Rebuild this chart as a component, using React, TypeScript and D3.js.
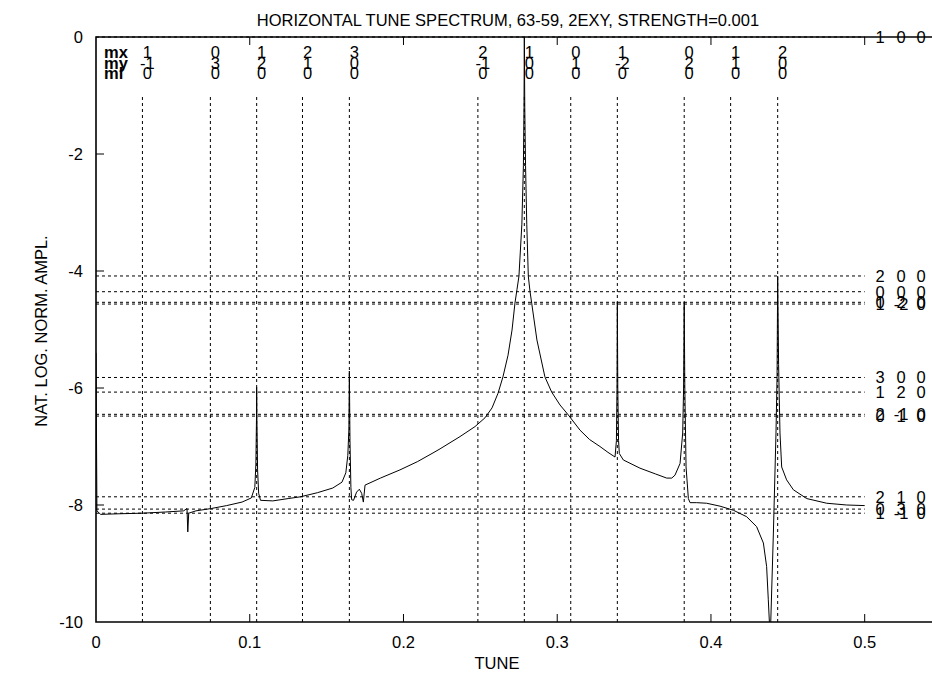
import React from 'react';
import * as d3 from 'd3';

// Horizontal tune spectrum with resonance markers

const W = 932;
const H = 673;

const xTickValues = [0, 0.1, 0.2, 0.3, 0.4, 0.5];
const xTickLabels = ['0', '0.1', '0.2', '0.3', '0.4', '0.5'];
const yTickValues = [0, -2, -4, -6, -8, -10];
const yTickLabels = ['0', '-2', '-4', '-6', '-8', '-10'];

// Resonance lines: tune position and mode numbers (mx, my, ml)
const resTune = [0.0302, 0.0744, 0.1045, 0.1343, 0.1648, 0.2484, 0.2786, 0.3088, 0.3391, 0.3826, 0.4128, 0.4434];
const resMx = ['1', '0', '1', '2', '3', '2', '1', '0', '1', '0', '1', '2'];
const resMy = ['-1', '3', '2', '1', '0', '-1', '0', '1', '-2', '2', '1', '0'];
const resMl = ['0', '0', '0', '0', '0', '0', '0', '0', '0', '0', '0', '0'];

// Amplitude levels of the resonances and their labels
const levelValue = [0, -4.085, -4.354, -4.535, -4.565, -5.82, -6.07, -6.45, -6.48, -7.86, -8.07, -8.14];
const levelMx = ['1', '2', '0', '0', '1', '3', '1', '2', '0', '2', '0', '1'];
const levelMy = ['0', '0', '0', '2', '-2', '0', '2', '-1', '1', '1', '3', '-1'];
const levelMl = ['0', '0', '0', '0', '0', '0', '0', '0', '0', '0', '0', '0'];

// Spectrum: [tune, natural log of normalised amplitude]
const spectrum: [number, number][] = [
  [0.0, -5.4], [0.0006, -8.1], [0.003, -8.16], [0.015, -8.15], [0.03, -8.14],
  [0.045, -8.12], [0.057, -8.1], [0.0592, -8.06], [0.0597, -8.46], [0.0603, -8.14],
  [0.065, -8.1], [0.075, -8.06], [0.085, -8.01], [0.095, -7.95], [0.101, -7.88],
  [0.1033, -7.7], [0.104, -7.3], [0.1044, -6.5], [0.1045, -5.99], [0.1047, -6.6],
  [0.1051, -7.4], [0.1058, -7.8], [0.107, -7.92], [0.115, -7.93], [0.125, -7.89],
  [0.133, -7.86], [0.144, -7.79], [0.154, -7.71], [0.16, -7.61], [0.1625, -7.45],
  [0.1638, -7.15], [0.1645, -6.7], [0.1648, -5.71], [0.1652, -6.9], [0.1658, -7.7],
  [0.1663, -7.91], [0.1675, -7.92], [0.1695, -7.78], [0.1713, -7.73], [0.1728, -7.8],
  [0.1739, -7.95], [0.175, -7.66], [0.185, -7.54], [0.1977, -7.4], [0.209, -7.26],
  [0.2192, -7.11], [0.2238, -7.04], [0.2368, -6.83], [0.2465, -6.66], [0.253, -6.51],
  [0.2576, -6.34], [0.2615, -6.09], [0.2647, -5.81], [0.268, -5.44], [0.2706, -5.01],
  [0.2725, -4.55], [0.2738, -4.32], [0.2751, -4.09], [0.277, -3.2], [0.278, -2.2],
  [0.2784, -1.2], [0.2786, 0], [0.2789, -1.2], [0.2794, -2.2], [0.2802, -3.2],
  [0.2812, -4.09], [0.2823, -4.35], [0.2834, -4.55], [0.2868, -5.18], [0.292, -5.81],
  [0.2964, -6.07], [0.3018, -6.29], [0.3072, -6.46], [0.3148, -6.72], [0.321, -6.88],
  [0.3278, -7.0], [0.333, -7.1], [0.3376, -7.18], [0.3385, -6.9], [0.3389, -6.0],
  [0.3391, -4.53], [0.3394, -6.0], [0.3399, -6.9], [0.3404, -7.12], [0.343, -7.23],
  [0.3538, -7.37], [0.364, -7.47], [0.3712, -7.54], [0.3745, -7.54], [0.3766, -7.49],
  [0.3799, -7.29], [0.3816, -6.77], [0.3822, -6.0], [0.3826, -4.53], [0.383, -6.0],
  [0.3838, -7.35], [0.3853, -7.89], [0.3864, -7.96], [0.3907, -7.96], [0.3972, -7.97],
  [0.4059, -8.02], [0.4146, -8.09], [0.4232, -8.2], [0.4297, -8.37], [0.4341, -8.65],
  [0.4362, -9.05], [0.4373, -9.62], [0.438, -10.0], [0.4384, -10.6], [0.4389, -10.0],
  [0.4406, -8.48], [0.4423, -6.77], [0.443, -5.8], [0.4434, -4.09], [0.444, -5.6],
  [0.4449, -6.77], [0.446, -7.35], [0.4492, -7.57], [0.4536, -7.74], [0.4623, -7.89],
  [0.4753, -7.97], [0.4883, -8.0], [0.5, -8.01],
];

const FONT = "'Liberation Sans', Arial, Helvetica, sans-serif";
const FS = 16.5;

export default function App() {
  const x = d3.scaleLinear().domain([0, 0.5]).range([96, 864.7]);
  const y = d3.scaleLinear().domain([-10, 0]).range([622, 37]);
  const xEnd = x(0.56);
  const left = x(0);
  const top = y(0);
  const bottom = y(-10);

  const path = d3
    .line<[number, number]>()
    .x((d) => x(d[0]))
    .y((d) => y(d[1]))(spectrum) as string;

  const rowY = [58, 68.5, 79];
  const levelCols = [880, 901, 921];

  return (
    <div style={{ position: 'absolute', left: 0, top: 0 }}>
      <svg width={W} height={H} viewBox={`0 0 ${W} ${H}`} style={{ display: 'block', background: '#fff' }} fontFamily={FONT}>
        <defs>
          <clipPath id="plot-clip">
            <rect x={left} y={top} width={xEnd - left} height={bottom - top} />
          </clipPath>
        </defs>
        <rect x={0} y={0} width={W} height={H} fill="#fff" />

        {/* title and axis labels */}
        <text x={508} y={26} fontSize={FS} textAnchor="middle" fill="#000">
          HORIZONTAL TUNE SPECTRUM, 63-59, 2EXY, STRENGTH=0.001
        </text>
        <text x={497} y={669} fontSize={FS} textAnchor="middle" fill="#000">TUNE</text>
        <text
          transform={`translate(47, 331) rotate(-90)`}
          fontSize={FS}
          textAnchor="middle"
          fill="#000"
        >
          NAT. LOG. NORM. AMPL.
        </text>

        {/* resonance amplitude levels */}
        {levelValue.map((v, i) => (
          <line
            key={`h${i}`}
            x1={x(0)}
            x2={x(0.5)}
            y1={y(v)}
            y2={y(v)}
            stroke="#000"
            strokeWidth={1}
            strokeDasharray="3,3"
          />
        ))}
        {levelValue.map((v, i) => (
          <g key={`hl${i}`} fontSize={FS} fill="#000" textAnchor="middle">
            <text x={levelCols[0]} y={y(v) + 6}>{levelMx[i]}</text>
            <text x={levelCols[1]} y={y(v) + 6}>{levelMy[i]}</text>
            <text x={levelCols[2]} y={y(v) + 6}>{levelMl[i]}</text>
          </g>
        ))}

        {/* resonance tune lines */}
        {resTune.map((t, i) => (
          <line
            key={`v${i}`}
            x1={x(t)}
            x2={x(t)}
            y1={y(-10)}
            y2={y(-1)}
            stroke="#000"
            strokeWidth={1}
            strokeDasharray="3,3"
          />
        ))}
        <g fontSize={FS} fontWeight="bold" fill="#000">
          <text x={104} y={rowY[0]}>mx</text>
          <text x={104} y={rowY[1]}>my</text>
          <text x={104} y={rowY[2]}>ml</text>
        </g>
        {resTune.map((t, i) => (
          <g key={`vl${i}`} fontSize={FS} fill="#000" textAnchor="middle">
            <text x={x(t) + 5} y={rowY[0]}>{resMx[i]}</text>
            <text x={x(t) + 5} y={rowY[1]}>{resMy[i]}</text>
            <text x={x(t) + 5} y={rowY[2]}>{resMl[i]}</text>
          </g>
        ))}

        {/* spectrum */}
        <path d={path} fill="none" stroke="#000" strokeWidth={1} clipPath="url(#plot-clip)" />

        {/* frame */}
        <path
          d={`M${xEnd},${top} H${left} V${bottom} H${xEnd}`}
          fill="none"
          stroke="#000"
          strokeWidth={1.6}
        />

        {/* x ticks */}
        {xTickValues.map((t, i) => (
          <g key={`xt${i}`}>
            {i > 0 && (
              <>
                <line x1={x(t)} x2={x(t)} y1={bottom} y2={bottom - 8} stroke="#000" strokeWidth={1} />
                <line x1={x(t)} x2={x(t)} y1={top} y2={top + 8} stroke="#000" strokeWidth={1} />
              </>
            )}
            <text x={x(t)} y={648} fontSize={FS} textAnchor="middle" fill="#000">
              {xTickLabels[i]}
            </text>
          </g>
        ))}

        {/* y ticks */}
        {yTickValues.map((v, i) => (
          <g key={`yt${i}`}>
            {i > 0 && i < yTickValues.length - 1 && (
              <line x1={left} x2={left + 8} y1={y(v)} y2={y(v)} stroke="#000" strokeWidth={1} />
            )}
            <text x={83} y={y(v) + 6} fontSize={FS} textAnchor="end" fill="#000">
              {yTickLabels[i]}
            </text>
          </g>
        ))}
      </svg>
    </div>
  );
}
